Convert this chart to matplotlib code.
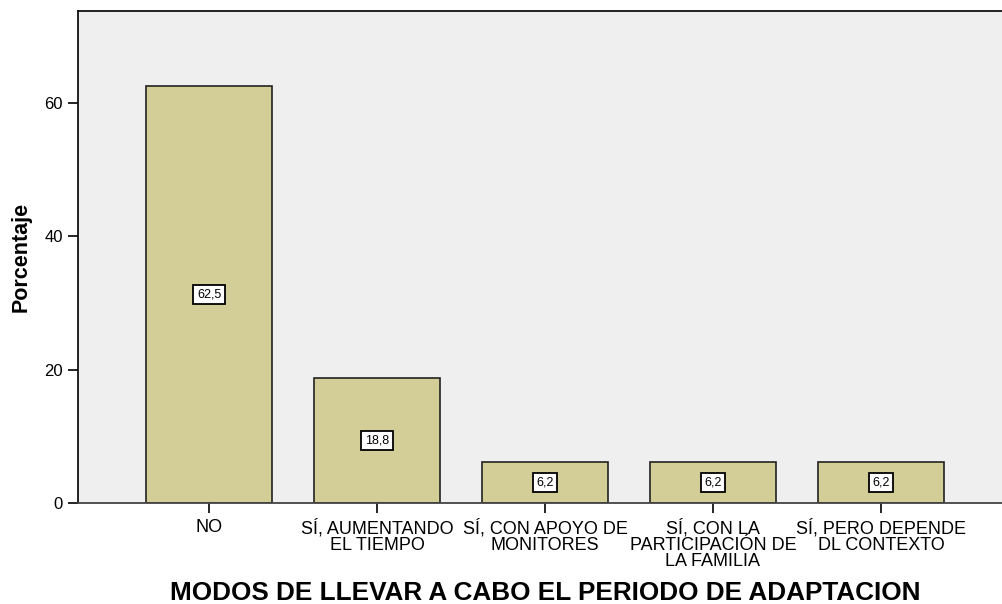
import matplotlib
matplotlib.use('Agg')
import matplotlib.pyplot as plt

categorias = ['NO', 'SÍ, AUMENTANDO\nEL TIEMPO', 'SÍ, CON APOYO DE\nMONITORES',
              'SÍ, CON LA\nPARTICIPACIÓN DE\nLA FAMILIA', 'SÍ, PERO DEPENDE\nDL CONTEXTO']
porcentaje = [62.5, 18.8, 6.2, 6.2, 6.2]
etiquetas = ['62,5', '18,8', '6,2', '6,2', '6,2']
yticks = [0, 20, 40, 60]

plt.rcParams['font.family'] = ['Liberation Sans', 'DejaVu Sans']

fig = plt.figure(figsize=(10.02, 6.04), dpi=100)
ax = fig.add_axes([78 / 1002, 101 / 604, 934 / 1002, 492 / 604])
ax.set_facecolor('#efefef')

x = list(range(len(categorias)))
ax.bar(x, porcentaje, width=0.75, color='#d3ce97', edgecolor='#222222', linewidth=1.2, zorder=2)
for xi, v, t in zip(x, porcentaje, etiquetas):
    ax.text(xi, v / 2, t, ha='center', va='center', fontsize=9, zorder=3,
            bbox=dict(boxstyle='square,pad=0.3', fc='white', ec='black', lw=1.3))

ax.set_xlim(-0.78, 4.78)
ax.set_ylim(0, 73.8)
ax.set_yticks(yticks)
ax.set_yticklabels([str(t) for t in yticks], fontsize=12)
ax.set_xticks(x)
ax.set_xticklabels(categorias, fontsize=13, linespacing=0.93)
ax.tick_params(axis='both', length=7.5, width=1.2, color='black')
ax.tick_params(axis='x', pad=4)

for s in ['left', 'top']:
    ax.spines[s].set_linewidth(1.3)
    ax.spines[s].set_color('#111111')
ax.spines['bottom'].set_linewidth(1.3)
ax.spines['bottom'].set_color('#444444')
ax.spines['right'].set_visible(False)

ax.set_ylabel('Porcentaje', fontsize=15.5, fontweight='bold', labelpad=9)
ax.set_xlabel('MODOS DE LLEVAR A CABO EL PERIODO DE ADAPTACION', fontsize=18.8,
              fontweight='bold', labelpad=8)

fig.savefig('out.png', dpi=100)
